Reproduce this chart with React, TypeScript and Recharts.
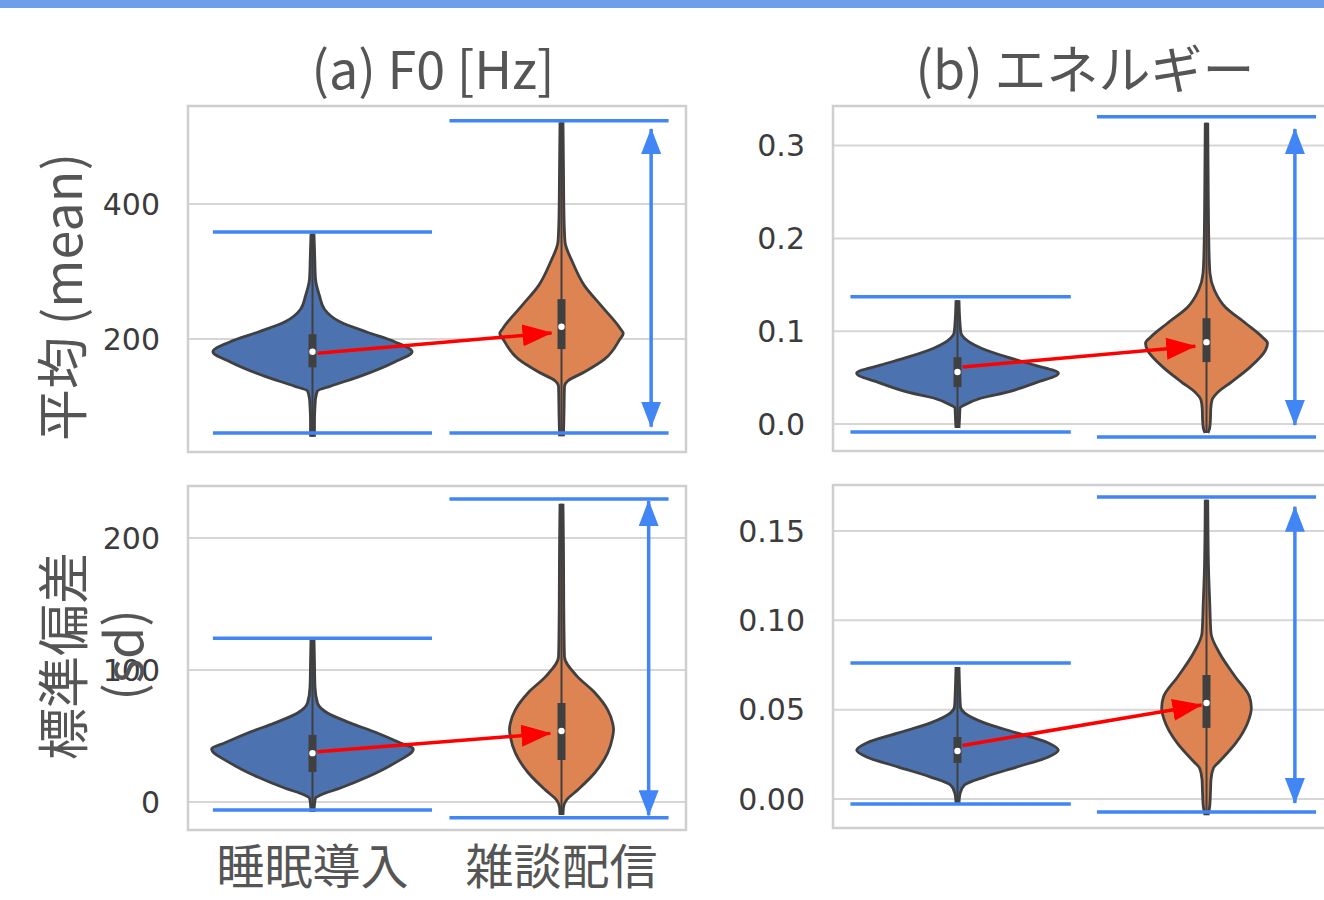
import React from 'react';
import { ComposedChart, Area, Line, Scatter, XAxis, YAxis, CartesianGrid, ReferenceArea } from 'recharts';

type Pt = [number, number];

const CATEGORIES = ['睡眠導入', '雑談配信'];

// violin outlines: [value, half width in category units], bottom to top
const F0_MEAN_SLEEP: Pt[] = [
  [55, 0.008], [80, 0.008], [100, 0.01], [111, 0.012], [123, 0.02], [130, 0.072], [145, 0.193],
  [166, 0.33], [181, 0.4], [196, 0.33], [210, 0.22], [225, 0.112], [244, 0.048], [264, 0.028],
  [289, 0.012], [320, 0.009], [356, 0.006],
];
const F0_MEAN_CHAT: Pt[] = [
  [56, 0.008], [90, 0.01], [130, 0.012], [138, 0.026], [151, 0.092], [170, 0.173], [200, 0.235],
  [208, 0.248], [216, 0.235], [249, 0.16], [279, 0.092], [314, 0.044], [344, 0.014], [382, 0.01],
  [450, 0.008], [521, 0.006],
];
const F0_SD_SLEEP: Pt[] = [
  [-7.6, 0.006], [-2, 0.008], [3, 0.012], [5.3, 0.032], [10.6, 0.112], [18.9, 0.22], [29.5, 0.33],
  [40.2, 0.405], [44.7, 0.353], [52.3, 0.26], [59.8, 0.153], [67.4, 0.06], [75, 0.02], [87, 0.01],
  [105, 0.008], [125, 0.006],
];
const F0_SD_CHAT: Pt[] = [
  [-9.8, 0.006], [-3.8, 0.008], [1.5, 0.02], [9, 0.064], [22, 0.133], [37, 0.185], [49, 0.205],
  [55, 0.209], [60, 0.205], [70, 0.185], [83, 0.133], [95, 0.064], [110, 0.012], [130, 0.01],
  [150, 0.009], [190, 0.008], [226, 0.006],
];
const EN_MEAN_SLEEP: Pt[] = [
  [-0.0043, 0.006], [0.005, 0.008], [0.0172, 0.01], [0.0204, 0.028], [0.028, 0.096], [0.0344, 0.2],
  [0.0441, 0.31], [0.0548, 0.405], [0.0634, 0.31], [0.072, 0.2], [0.0817, 0.096], [0.0925, 0.028],
  [0.0978, 0.014], [0.1086, 0.01], [0.1333, 0.006],
];
const EN_MEAN_CHAT: Pt[] = [
  [-0.0097, 0.006], [-0.004, 0.013], [0.006, 0.016], [0.016, 0.017], [0.0258, 0.022], [0.0333, 0.042],
  [0.0452, 0.1], [0.0613, 0.175], [0.0796, 0.237], [0.0871, 0.245], [0.0935, 0.225], [0.1086, 0.157],
  [0.1258, 0.076], [0.1441, 0.032], [0.1624, 0.014], [0.1871, 0.01], [0.25, 0.007], [0.3247, 0.005],
];
const EN_SD_SLEEP: Pt[] = [
  [-0.0022, 0.006], [0.003, 0.01], [0.0078, 0.028], [0.0123, 0.108], [0.0179, 0.237], [0.0235, 0.365],
  [0.0274, 0.405], [0.0314, 0.365], [0.037, 0.237], [0.0426, 0.108], [0.0482, 0.028], [0.0515, 0.012],
  [0.06, 0.009], [0.0739, 0.006],
];
const EN_SD_CHAT: Pt[] = [
  [-0.009, 0.006], [-0.004, 0.013], [0.004, 0.016], [0.011, 0.018], [0.0174, 0.028], [0.0207, 0.05],
  [0.0314, 0.118], [0.0426, 0.165], [0.051, 0.18], [0.0571, 0.173], [0.0683, 0.116], [0.0817, 0.052],
  [0.0929, 0.018], [0.11, 0.013], [0.13, 0.008], [0.1674, 0.005],
];

// inner box: [q1, median, q3] per category
const F0_MEAN_BOX = [[158, 181, 207], [185, 218, 259]];
const F0_SD_BOX = [[22.7, 37, 50.8], [31.8, 53.8, 75]];
const EN_MEAN_BOX = [[0.0398, 0.056, 0.072], [0.0667, 0.0882, 0.114]];
const EN_SD_BOX = [[0.0202, 0.0269, 0.0347], [0.0398, 0.0537, 0.0694]];

// blue min / max lines per category
const F0_MEAN_RANGE = [[60.7, 358.5], [60.7, 523]];
const F0_SD_RANGE = [[-6, 124], [-12, 229.5]];
const EN_MEAN_RANGE = [[-0.0086, 0.137], [-0.014, 0.331]];
const EN_SD_RANGE = [[-0.0028, 0.0761], [-0.0073, 0.169]];

// red arrow: [from, to]   blue span arrow: [bottom, top]
const F0_MEAN_SHIFT = [179, 209];
const F0_SD_SHIFT = [38, 52];
const EN_MEAN_SHIFT = [0.0613, 0.0839];
const EN_SD_SHIFT = [0.03, 0.0526];
const F0_MEAN_SPAN = [70, 511];
const F0_SD_SPAN = [-10, 228];
const EN_MEAN_SPAN = [-0.001, 0.318];
const EN_SD_SPAN = [-0.0022, 0.1635];

const F0_MEAN_TICKS = [200, 400];
const F0_SD_TICKS = [0, 100, 200];
const EN_MEAN_TICKS = [0, 0.1, 0.2, 0.3];
const EN_SD_TICKS = [0, 0.05, 0.1, 0.15];

const COLORS = ['#4c72b0', '#dd8452'];
const EDGE = '#404040';
const MARK = '#4285f4';
const CJK = '"Noto Sans CJK JP", "Noto Sans", sans-serif';

const Y_AXIS_W = 140;
const FRAME_W = 498;
const X_AXIS_H = 64;
const M = { top: 4, right: 8, bottom: 4, left: 0 };

const panels = [
  {
    id: 'a1', left: 188, top: 106, frameH: 346, domain: [32.6, 545], ticks: F0_MEAN_TICKS, fmt: (v: number) => String(v),
    violins: [F0_MEAN_SLEEP, F0_MEAN_CHAT], boxes: F0_MEAN_BOX, ranges: F0_MEAN_RANGE, shift: F0_MEAN_SHIFT, span: F0_MEAN_SPAN,
    lineX: [[-0.4, 0.48], [0.55, 1.43]], shiftX: [0.02, 0.96], spanX: 1.36, showX: false,
  },
  {
    id: 'a2', left: 188, top: 486, frameH: 344, domain: [-21.2, 239.4], ticks: F0_SD_TICKS, fmt: (v: number) => String(v),
    violins: [F0_SD_SLEEP, F0_SD_CHAT], boxes: F0_SD_BOX, ranges: F0_SD_RANGE, shift: F0_SD_SHIFT, span: F0_SD_SPAN,
    lineX: [[-0.4, 0.48], [0.55, 1.43]], shiftX: [0.02, 0.955], spanX: 1.35, showX: true,
  },
  {
    id: 'b1', left: 833, top: 106, frameH: 345, domain: [-0.0291, 0.3427], ticks: EN_MEAN_TICKS, fmt: (v: number) => v.toFixed(1),
    violins: [EN_MEAN_SLEEP, EN_MEAN_CHAT], boxes: EN_MEAN_BOX, ranges: EN_MEAN_RANGE, shift: EN_MEAN_SHIFT, span: EN_MEAN_SPAN,
    lineX: [[-0.43, 0.455], [0.56, 1.44]], shiftX: [0.02, 0.955], spanX: 1.355, showX: false,
  },
  {
    id: 'b2', left: 833, top: 485, frameH: 343, domain: [-0.0162, 0.1757], ticks: EN_SD_TICKS, fmt: (v: number) => v.toFixed(2),
    violins: [EN_SD_SLEEP, EN_SD_CHAT], boxes: EN_SD_BOX, ranges: EN_SD_RANGE, shift: EN_SD_SHIFT, span: EN_SD_SPAN,
    lineX: [[-0.43, 0.455], [0.56, 1.44]], shiftX: [0.02, 0.98], spanX: 1.355, showX: false,
  },
];

function Panel({ p }: { p: any }) {
  const W = Y_AXIS_W + FRAME_W + M.right;
  const H = p.frameH + M.top + M.bottom + (p.showX ? X_AXIS_H : 0);
  return (
    <div style={{ position: 'absolute', left: p.left - Y_AXIS_W, top: p.top - M.top }}>
      <ComposedChart layout="vertical" width={W} height={H} margin={M}>
        <CartesianGrid vertical={false} stroke="#d6d6d6" strokeWidth={2} />
        <ReferenceArea x1={-0.5} x2={1.5} y1={p.domain[0]} y2={p.domain[1]} fill="none" stroke="#cfcfcf" strokeWidth={2.5} />
        <XAxis
          type="number" dataKey="x" domain={[-0.5, 1.5]} allowDataOverflow hide={!p.showX}
          ticks={[0, 1]} interval={0} tickFormatter={(v: number) => CATEGORIES[v]}
          axisLine={false} tickLine={false} tickSize={0} tickMargin={20} height={X_AXIS_H}
          tick={{ fontSize: 48, fill: '#555', fontFamily: CJK }}
        />
        <YAxis
          type="number" dataKey="y" domain={p.domain} allowDataOverflow reversed ticks={p.ticks} interval={0}
          tickFormatter={p.fmt} width={Y_AXIS_W} axisLine={false} tickLine={false} tickMargin={22}
          tick={{ fontSize: 30, fill: '#3c3c3c', fontFamily: '"DejaVu Sans"' }}
        />
        {p.violins.map((pts: Pt[], i: number) => (
          <Area
            key={`v${i}`}
            data={pts.map(([v, hw]) => ({ y: v, range: [i - hw, i + hw] }))}
            dataKey="range" type="monotone" fill={COLORS[i]} fillOpacity={1}
            stroke={EDGE} strokeWidth={2.8} dot={false} activeDot={false} isAnimationActive={false}
          />
        ))}
        {p.violins.map((pts: Pt[], i: number) => (
          <Line
            key={`w${i}`}
            data={[{ y: pts[0][0], x: i }, { y: pts[pts.length - 1][0], x: i }]}
            dataKey="x" type="linear" stroke={EDGE} strokeWidth={2} dot={false} activeDot={false} isAnimationActive={false}
          />
        ))}
        {p.boxes.map((b: number[], i: number) => (
          <Line
            key={`b${i}`}
            data={[{ y: b[0], x: i }, { y: b[2], x: i }]}
            dataKey="x" type="linear" stroke={EDGE} strokeWidth={8} dot={false} activeDot={false} isAnimationActive={false}
          />
        ))}
        <Scatter
          data={p.boxes.map((b: number[], i: number) => ({ x: i, y: b[1] }))}
          isAnimationActive={false}
          shape={(s: any) => <circle cx={s.cx} cy={s.cy} r={3.2} fill="#ffffff" />}
        />
        {p.ranges.map((r: number[], i: number) =>
          r.map((v: number, j: number) => (
            <Line
              key={`r${i}${j}`}
              data={[{ y: v, x: p.lineX[i][0] }, { y: v, x: p.lineX[i][1] }]}
              dataKey="x" type="linear" stroke={MARK} strokeWidth={3.5} dot={false} activeDot={false} isAnimationActive={false}
            />
          ))
        )}
        <Line
          data={[{ y: p.shift[0], x: p.shiftX[0] }, { y: p.shift[1], x: p.shiftX[1] }]}
          dataKey="x" type="linear" stroke="#ff0000" strokeWidth={3.5} markerEnd="url(#redHead)"
          dot={false} activeDot={false} isAnimationActive={false}
        />
        <Line
          data={[{ y: p.span[0], x: p.spanX }, { y: p.span[1], x: p.spanX }]}
          dataKey="x" type="linear" stroke={MARK} strokeWidth={3.5}
          markerStart="url(#blueHead)" markerEnd="url(#blueHead)"
          dot={false} activeDot={false} isAnimationActive={false}
        />
      </ComposedChart>
    </div>
  );
}

export default function App() {
  return (
    <div style={{ position: 'absolute', left: 0, top: 0, width: 1324, height: 900, overflow: 'hidden', background: '#fff' }}>
      <svg width={0} height={0} style={{ position: 'absolute' }}>
        <defs>
          <marker id="redHead" markerUnits="userSpaceOnUse" markerWidth={30} markerHeight={22} refX={29} refY={11} orient="auto">
            <path d="M0,0 L30,11 L0,22 Z" fill="#ff0000" />
          </marker>
          <marker id="blueHead" markerUnits="userSpaceOnUse" markerWidth={26} markerHeight={20} refX={25} refY={10} orient="auto-start-reverse">
            <path d="M0,0 L26,10 L0,20 Z" fill={MARK} />
          </marker>
        </defs>
      </svg>
      <div style={{ position: 'absolute', left: 0, top: 0, width: 1324, height: 8, background: '#6d9eeb' }} />
      {panels.map((p) => <Panel key={p.id} p={p} />)}
      <svg width={1324} height={900} style={{ position: 'absolute', left: 0, top: 0, pointerEvents: 'none' }}>
        <g fontFamily={CJK} fill="#555" fontSize={52}>
          <text x={433} y={89} textAnchor="middle">(a) F0 [Hz]</text>
          <text x={1085} y={89} textAnchor="middle">(b) エネルギー</text>
          <text transform="translate(82,297) rotate(-90)" textAnchor="middle">平均 (mean)</text>
          <text transform="translate(83,656) rotate(-90)" textAnchor="middle">標準偏差</text>
          <text transform="translate(143,655) rotate(-90)" textAnchor="middle">(sd)</text>
        </g>
      </svg>
    </div>
  );
}
